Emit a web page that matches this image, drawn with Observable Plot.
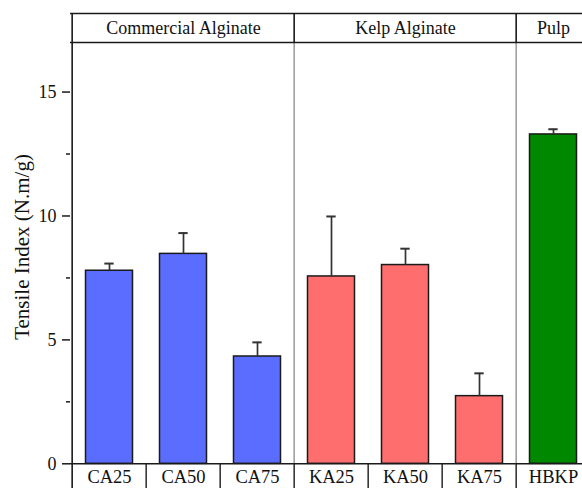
<!DOCTYPE html>
<html><head><meta charset="utf-8">
<script src="https://cdn.jsdelivr.net/npm/d3@7"></script>
<script src="https://cdn.jsdelivr.net/npm/@observablehq/plot@0.6"></script>
<style>body{margin:0;background:#fff}</style>
</head><body><div id="chart"></div>
<script>
const categories = ["CA25", "CA50", "CA75", "KA25", "KA50", "KA75", "HBKP"];
const categoryGroup = ["Commercial Alginate", "Commercial Alginate", "Commercial Alginate", "Kelp Alginate", "Kelp Alginate", "Kelp Alginate", "Pulp"];
const values = [7.79, 8.47, 4.33, 7.56, 8.02, 2.73, 13.29];
const errors = [0.29, 0.84, 0.57, 2.42, 0.66, 0.92, 0.21];
const groups = ["Commercial Alginate", "Kelp Alginate", "Pulp"];
const groupCenters = ["CA50", "KA50", "HBKP"];
const groupStarts = ["KA25", "HBKP"];
const groupColors = ["#5b6dff", "#ff6e6e", "#008800"];
const yTicks = [0, 5, 10, 15];
const yMinorTicks = [2.5, 7.5, 12.5];
const yLabel = "Tensile Index (N.m/g)";

const data = categories.map((c, i) => ({cat: c, group: categoryGroup[i], value: values[i], err: values[i] + errors[i]}));
const headers = groups.map((g, i) => ({group: g, cat: groupCenters[i]}));

const xRange = [70, 592.7];
const yRange = [463.3, 42];
const step = (xRange[1] - xRange[0]) / categories.length;
const ys = d3.scaleLinear([0, 17], yRange);
const headerTop = ys.invert(13);
const rowBottom = ys.invert(492);
const rowMid = ys.invert(477);
const headerMid = ys.invert(28);
const font = "Liberation Serif, Times New Roman, serif";
const ink = "#1a1a1a";

const chart = Plot.plot({
  width: 582,
  height: 488,
  marginLeft: 70,
  marginRight: 0,
  marginTop: 13,
  marginBottom: 8,
  style: {fontFamily: font, background: "#fff", color: "#111"},
  x: {domain: categories, range: xRange, padding: 0, axis: null},
  y: {domain: [0, 17], range: yRange, axis: null},
  color: {domain: groups, range: groupColors},
  marks: [
    Plot.ruleX(groupStarts, {x: d => d, dx: -step / 2, y1: 0, y2: 17, stroke: "#9a9a9a", strokeWidth: 1.5}),
    Plot.barY(data, {x: "cat", y: "value", fill: "group", stroke: ink, strokeWidth: 1.5, insetLeft: 13.5, insetRight: 13.5}),
    Plot.ruleX(data, {x: "cat", y1: "value", y2: "err", stroke: "#333", strokeWidth: 1.7}),
    Plot.tickY(data, {x: "cat", y: "err", stroke: "#333", strokeWidth: 2, insetLeft: step / 2 - 5, insetRight: step / 2 - 5}),
    Plot.ruleY([17, headerTop], {stroke: ink, strokeWidth: 1.6}),
    Plot.ruleX(groupStarts, {x: d => d, dx: -step / 2, y1: 17, y2: headerTop, stroke: ink, strokeWidth: 1.6}),
    Plot.text(headers, {x: "cat", y: headerMid, text: "group", fontSize: 18, fill: "#111"}),
    Plot.ruleY([0], {stroke: ink, strokeWidth: 1.6}),
    Plot.ruleX(categories.slice(1), {x: d => d, dx: -step / 2, y1: 0, y2: rowBottom, stroke: ink, strokeWidth: 1.4}),
    Plot.text(categories, {x: d => d, y: rowMid, text: d => d, fontSize: 18.5, fill: "#111"}),
    Plot.ruleX([categories[0]], {x: d => d, dx: -step / 2, y1: rowBottom, y2: headerTop, stroke: ink, strokeWidth: 1.6}),
    Plot.axisY({ticks: yTicks, tickSize: 8, tickPadding: 6, fontSize: 18, stroke: ink, strokeWidth: 1.5, label: null, fill: "#111"}),
    Plot.axisY({ticks: yMinorTicks, tickSize: 4, tickFormat: () => "", stroke: ink, strokeWidth: 1.5, label: null}),
    Plot.text([yLabel], {frameAnchor: "left", textAnchor: "middle", text: d => d, rotate: -90, dx: -48, fontSize: 21, fill: "#111"})
  ]
});
document.getElementById("chart").appendChild(chart);
</script>
</body></html>
